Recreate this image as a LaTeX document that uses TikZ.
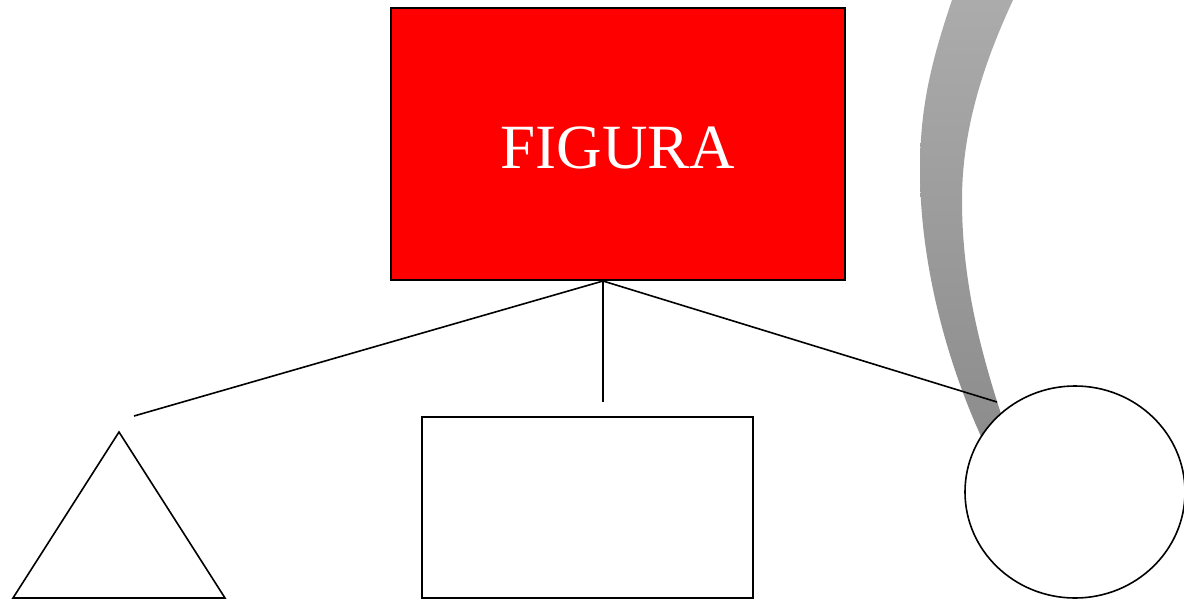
\documentclass[tikz,border=0pt]{standalone}
\usepackage{fontspec}
\setmainfont{Liberation Serif}
\usetikzlibrary{shapes.geometric}
\definecolor{bandtop}{HTML}{ACACAC}
\definecolor{bandbot}{HTML}{8C8C8C}
\tikzset{
  shapeline/.style={draw=black, line width=1.6pt},
  conn/.style={draw=black, line width=1.6pt},
  redbox/.style={rectangle, draw=black, line width=1.6pt, fill=red, text=white,
    minimum width=454pt, minimum height=272pt, inner sep=0pt,
    text height=48pt, text depth=0pt,
    font=\fontsize{63}{70}\selectfont},
  whitebox/.style={rectangle, shapeline, fill=white, minimum width=331pt, minimum height=181pt, inner sep=0pt},
  whiteell/.style={ellipse, shapeline, fill=white, minimum width=220pt, minimum height=212pt, inner sep=0pt},
}
\begin{document}
\begin{tikzpicture}[x=1pt,y=-1pt]
\useasboundingbox (0,0) rectangle (1184,600);
% gray band
\shade[top color=bandtop, bottom color=bandbot]
  (955,-10) -- (952,0) .. controls (930,65) and (920,110) .. (920,170)
  .. controls (920,260) and (945,360) .. (985,445)
  -- (1012,445) -- (1003,420)
  .. controls (980,350) and (962,280) .. (962,200)
  .. controls (962,120) and (990,50) .. (1013,0)
  -- (1018,-10) -- cycle;
% top box
\node[redbox] (fig) at (618,144) {FIGURA};
% shapes
\coordinate (triA) at (119,432);
\coordinate (triB) at (13,598);
\coordinate (triC) at (225,598);
\draw[shapeline, line join=miter] (triA) -- (triB) -- (triC) -- cycle;
\node[whitebox] (box) at (587.5,507.5) {};
\node[whiteell] (ell) at (1075,492) {};
% connectors
\coordinate (hub) at (603,281);
\coordinate (tEnd) at (134,416);
\coordinate (rEnd) at (603,402);
\coordinate (cEnd) at (997,402);
\draw[conn] (hub) -- (tEnd);
\draw[conn] (hub) -- (rEnd);
\draw[conn] (hub) -- (cEnd);
\end{tikzpicture}
\end{document}
